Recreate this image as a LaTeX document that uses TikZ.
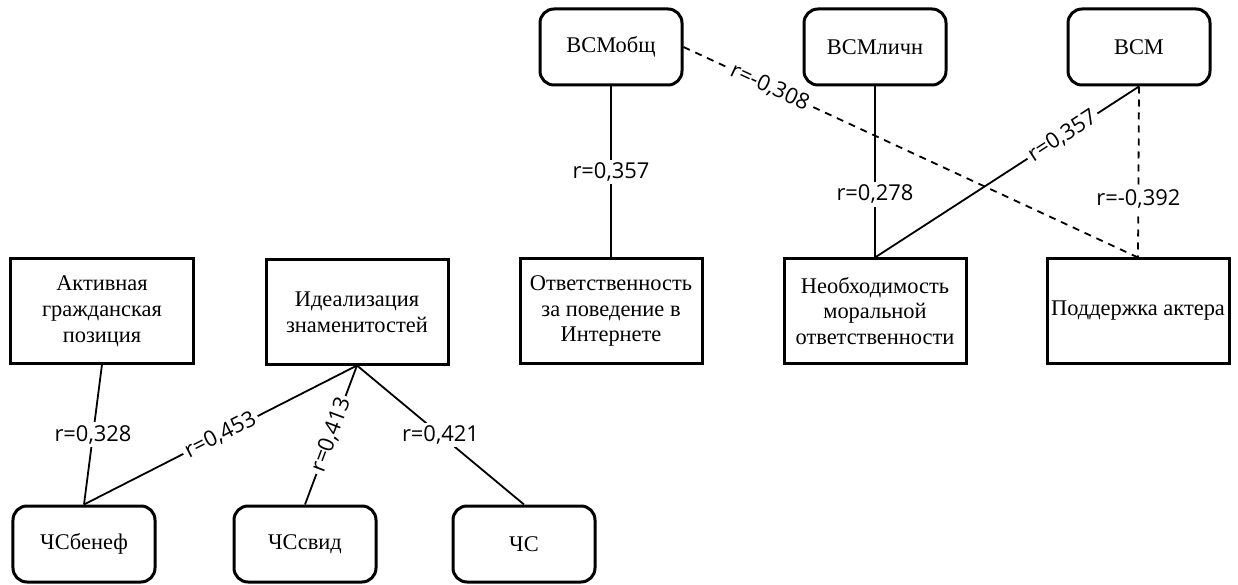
\documentclass[tikz,border=0pt]{standalone}
\usepackage{fontspec}
\setmainfont{Liberation Serif}
\newfontfamily\lblfont{Open Sans}

\tikzset{
  roundbox/.style={draw,line width=3bp,rounded corners=14bp,
    minimum width=142bp,minimum height=76bp,
    font=\fontsize{22.5}{26}\selectfont},
  rectbox/.style={draw,line width=3bp,minimum width=182bp,
    minimum height=104bp,align=center,
    font=\fontsize{22.5}{26}\selectfont},
  corr/.style={draw,line width=1.8bp},
  negcorr/.style={corr,dash pattern=on 7bp off 6bp},
  rlabel/.style={fill=white,inner sep=3bp,
    font=\lblfont\fontsize{22}{24}\selectfont}
}

\begin{document}
\begin{tikzpicture}[x=1bp,y=-1bp]
      \useasboundingbox (0,0) rectangle (1238,585);

      \begin{scope}[every node/.style={roundbox}]
        \node (vsmob)  at (611,47)  {ВСМобщ};
        \node (vsmli)  at (875,47)  {ВСМличн};
        \node (vsm)    at (1139,47) {ВСМ};
        \node (chsben) at (84,544)  {ЧСбенеф};
        \node (chssv)  at (305,544) {ЧСсвид};
        \node (chs)    at (524,544) {ЧС};
      \end{scope}

      \begin{scope}[every node/.style={rectbox}]
        \node (otv)    at (611,311)  {Ответственность\\за поведение в\\Интернете};
        \node (neob)   at (875,311)  {Необходимость\\моральной\\ответственности};
        \node (podd)   at (1138,311) {Поддержка актера};
        \node (aktiv)  at (102,311)  {Активная\\гражданская\\позиция};
        \node (ideal)  at (357,312)  {Идеализация\\знаменитостей};
      \end{scope}

      \begin{scope}[every node/.style={rlabel}]
        \path (vsmob.south) edge[corr] node {r=0,357} (otv.north);
        \path (vsmli.south) edge[corr] node[pos=.63] {r=0,278} (neob.north);
        \path (vsm.south)   edge[corr] node[pos=.29,sloped] {r=0,357} (neob.north);
        \path (vsmob.east)  edge[negcorr] node[pos=.19,sloped] {r=-0,308} (podd.north);
        \path (vsm.south)   edge[negcorr] node[pos=.66] {r=-0,392} (podd.north);
        \path (aktiv.south) edge[corr] node {r=0,328} (chsben.north);
        \path (ideal.south) edge[corr] node[sloped] {r=0,453} (chsben.north);
        \path (ideal.south) edge[corr] node[sloped] {r=0,413} (chssv.north);
        \path (ideal.south) edge[corr] node {r=0,421} (chs.north);
      \end{scope}

    \end{tikzpicture}
\end{document}
